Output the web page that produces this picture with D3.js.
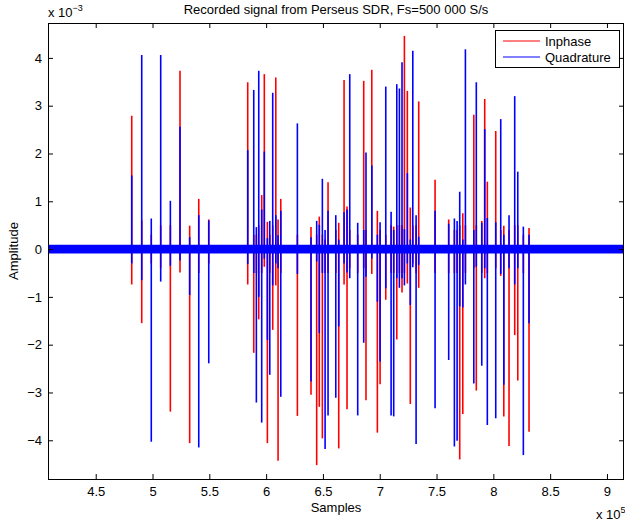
<!DOCTYPE html>
<html>
<head>
<meta charset="utf-8">
<script src="https://cdn.jsdelivr.net/npm/d3@7"></script>
<style>
  html, body { margin: 0; padding: 0; background: #fff; }
  svg { display: block; }
  text { font-family: "Liberation Sans", Arial, Helvetica, sans-serif; fill: #000; }
</style>
</head>
<body>
<svg id="chart" width="625" height="524"></svg>
<script>
// ---------- DATA (amplitudes in units of 1e-3) ----------
const titleText = "Recorded signal from Perseus SDR, Fs=500 000 S/s";
const seriesNames = ["Inphase", "Quadrature"];
const seriesColors = ["#ff0000", "#0000ff"];

const xTickValues = [450000, 500000, 550000, 600000, 650000, 700000, 750000, 800000, 850000, 900000];
const xTickLabels = ["4.5", "5", "5.5", "6", "6.5", "7", "7.5", "8", "8.5", "9"];
const yTickValues = [-4, -3, -2, -1, 0, 1, 2, 3, 4];
const yTickLabels = ["\u22124", "\u22123", "\u22122", "\u22121", "0", "1", "2", "3", "4"];

// sample positions of the impulsive bursts
const spikeX = [481700, 490500, 498900, 507200, 515700, 524200, 532700, 540700, 549500,
  583800, 589100, 591400, 593500, 596100, 598400, 601100, 603200, 605800, 608500, 610500, 612900,
  627500, 639500, 644500, 646800, 649500, 651900, 654500, 661300, 663900, 668600, 671200, 673600,
  680600, 685900, 687900, 693000, 697900, 700300, 705300, 710000, 712300, 715000, 717300, 719600,
  721700, 724300, 726900, 729100, 732000, 734300, 748700, 760700, 765700, 768100, 770400, 773100,
  775400, 782800, 785000, 789800, 792400, 794700, 802100, 806500, 809200, 813800, 818800, 821500,
  826400, 831400];
// Inphase burst extents
const iMax = [2.79, 0.60, 0.30, 0.50, 0.50, 3.73, 0.49, 1.05, 0.62,
  3.49, 0.30, 0.30, 0.50, 1.13, 3.66, 0.57, 0.30, 0.50, 3.59, 0.62, 1.05,
  0.30, 0.46, 0.30, 0.68, 0.30, 0.20, 1.40, 0.40, 0.55, 3.54, 0.89, 0.40,
  0.30, 3.52, 0.40, 3.75, 0.80, 0.40, 0.30, 0.50, 0.47, 0.50, 0.50, 0.50,
  4.46, 3.31, 0.87, 0.50, 0.50, 3.09, 1.45, 0.62, 0.40, 0.40, 0.50, 0.75,
  0.50, 2.81, 0.50, 0.59, 3.14, 1.41, 2.47, 0.40, 0.49, 0.40, 0.50, 0.50,
  0.30, 0.44];
const iMin = [-0.74, -1.55, -0.30, -0.40, -3.40, -0.49, -4.06, -0.50, -0.30,
  -0.74, -2.17, -0.50, -1.47, -0.50, -0.37, -4.06, -0.50, -1.69, -0.76, -4.43, -0.50,
  -3.49, -3.05, -4.52, -3.30, -3.96, -0.50, -0.50, -0.50, -4.17, -0.74, -3.35, -0.40,
  -0.50, -0.40, -3.16, -0.52, -3.84, -2.83, -1.06, -0.50, -0.50, -1.89, -0.50, -0.91,
  -0.50, -0.72, -3.24, -0.30, -0.50, -0.81, -0.50, -0.50, -0.50, -0.50, -4.40, -3.45,
  -0.50, -0.40, -2.96, -0.50, -0.61, -0.50, -0.40, -0.56, -3.50, -4.12, -1.80, -2.75,
  -0.50, -3.82];
// Quadrature burst extents
const qMax = [1.54, 4.06, 0.64, 4.06, 1.01, 2.56, 0.25, 0.71, 0.60,
  2.07, 3.33, 0.46, 3.73, 0.83, 2.04, 0.23, 0.59, 3.27, 0.71, 0.29, 0.80,
  2.63, 0.25, 0.59, 0.51, 1.47, 0.40, 0.80, 0.71, 0.20, 0.77, 0.83, 3.66,
  0.55, 0.40, 2.02, 1.75, 0.30, 0.56, 3.40, 0.78, 0.40, 3.45, 3.36, 3.91,
  0.42, 1.59, 0.20, 4.15, 0.71, 0.26, 0.80, 0.53, 0.64, 0.59, 1.20, 0.20,
  4.18, 0.40, 3.49, 0.55, 2.51, 0.65, 0.56, 2.72, 0.30, 0.71, 3.20, 1.62,
  0.47, 0.30];
const qMin = [-0.30, -0.65, -4.03, -0.68, -0.35, -0.24, -0.96, -4.15, -2.39,
  -0.31, -0.50, -3.21, -1.00, -3.63, -0.20, -1.90, -2.63, -0.76, -0.30, -0.40, -3.09,
  -0.52, -2.77, -0.26, -1.76, -0.50, -4.18, -3.48, -3.11, -1.62, -0.30, -0.49, -0.61,
  -3.48, -1.96, -0.58, -0.20, -1.10, -2.35, -0.82, -3.48, -3.50, -0.61, -0.81, -0.61,
  -0.76, -0.30, -1.17, -0.38, -4.08, -0.33, -3.33, -2.32, -4.13, -4.01, -1.20, -1.22,
  -0.74, -2.81, -0.37, -2.44, -0.40, -3.68, -3.54, -0.52, -2.84, -0.40, -0.74, -0.40,
  -4.31, -1.55];

// background noise envelope (start/end sample and half-width)
const noiseX = [408000, 915000];
const noiseIAmp = [0.08, 0.08];
const noiseQAmp = [0.092, 0.092];

// ---------- CHART ----------
(function () {
const svg = d3.select("#chart");
const pL = 48, pR = 624, pT = 23, pB = 479;
const x = d3.scaleLinear().domain([408000, 915000]).range([pL, pR]);
const y = d3.scaleLinear().domain([-4.81, 4.73]).range([pB, pT]);

svg.append("defs").append("clipPath").attr("id", "clip")
  .append("rect").attr("x", pL).attr("y", pT).attr("width", pR - pL).attr("height", pB - pT);

const plot = svg.append("g").attr("clip-path", "url(#clip)");

const bandArea = amp => d3.area()
  .x((d, i) => x(noiseX[i]))
  .y0((d, i) => y(-amp[i]))
  .y1((d, i) => y(amp[i]));

function drawSeries(amp, mx, mn, color) {
  plot.append("path").datum(noiseX).attr("d", bandArea(amp)).attr("fill", color);
  plot.selectAll(null).data(spikeX).enter().append("line")
    .attr("x1", d => x(d)).attr("x2", d => x(d))
    .attr("y1", (d, i) => y(mx[i])).attr("y2", (d, i) => y(mn[i]))
    .attr("stroke", color).attr("stroke-width", 1.6);
}
drawSeries(noiseIAmp, iMax, iMin, seriesColors[0]);
drawSeries(noiseQAmp, qMax, qMin, seriesColors[1]);

// axes
const fs = 13;
const xAxisB = d3.axisBottom(x).tickValues(xTickValues).tickFormat((d, i) => xTickLabels[i])
  .tickSizeInner(-5).tickSizeOuter(0).tickPadding(8);
const xAxisT = d3.axisTop(x).tickValues(xTickValues).tickFormat("").tickSizeInner(-5).tickSizeOuter(0);
const yAxisL = d3.axisLeft(y).tickValues(yTickValues).tickFormat((d, i) => yTickLabels[i])
  .tickSizeInner(-5).tickSizeOuter(0).tickPadding(6);
const yAxisR = d3.axisRight(y).tickValues(yTickValues).tickFormat("").tickSizeInner(-5).tickSizeOuter(0);

function styleAxis(g) {
  g.select(".domain").remove();
  g.selectAll("line").attr("stroke", "#000").attr("stroke-width", 1);
  g.selectAll("text").attr("font-size", fs).attr("font-family", "Liberation Sans, Arial, sans-serif").attr("fill", "#000");
}
svg.append("g").attr("transform", `translate(0,${pB})`).call(xAxisB).call(styleAxis);
svg.append("g").attr("transform", `translate(0,${pT})`).call(xAxisT).call(styleAxis);
svg.append("g").attr("transform", `translate(${pL},0)`).call(yAxisL).call(styleAxis);
svg.append("g").attr("transform", `translate(${pR},0)`).call(yAxisR).call(styleAxis);

svg.append("rect").attr("x", pL + 0.5).attr("y", pT + 0.5)
  .attr("width", pR - pL - 1).attr("height", pB - pT)
  .attr("fill", "none").attr("stroke", "#000").attr("stroke-width", 1);

// title & labels
svg.append("text").attr("x", (pL + pR) / 2).attr("y", 13.5).attr("text-anchor", "middle")
  .attr("font-size", fs).text(titleText);
svg.append("text").attr("x", (pL + pR) / 2).attr("y", 511.5).attr("text-anchor", "middle")
  .attr("font-size", fs).text("Samples");
svg.append("text").attr("transform", "translate(17.5,251) rotate(-90)").attr("text-anchor", "middle")
  .attr("font-size", fs).text("Amplitude");

// exponent labels
const ey = svg.append("text").attr("x", 48).attr("y", 17).attr("font-size", fs);
ey.append("tspan").text("x 10");
ey.append("tspan").attr("dy", -6).attr("font-size", 9).text("\u22123");
const ex = svg.append("text").attr("x", 596).attr("y", 518.5).attr("font-size", fs);
ex.append("tspan").text("x 10");
ex.append("tspan").attr("dy", -6).attr("font-size", 9).text("5");

// legend
const lg = svg.append("g");
lg.append("rect").attr("x", 495.5).attr("y", 30.5).attr("width", 124).attr("height", 37)
  .attr("fill", "#fff").attr("stroke", "#000").attr("stroke-width", 1);
seriesNames.forEach((name, i) => {
  const ly = 41 + i * 16;
  lg.append("line").attr("x1", 503).attr("x2", 540).attr("y1", ly).attr("y2", ly)
    .attr("stroke", seriesColors[i]).attr("stroke-width", 1);
  lg.append("text").attr("x", 545).attr("y", ly + 5).attr("font-size", fs).text(name);
});
})();
</script>
</body>
</html>
